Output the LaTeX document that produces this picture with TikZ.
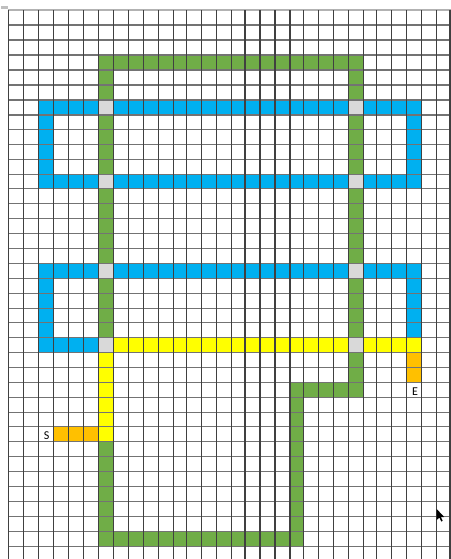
\documentclass[tikz,border=0pt]{standalone}
\usepackage{fontspec}
\setmainfont{Carlito}
\definecolor{cgreen}{HTML}{70AD47}
\definecolor{cblue}{HTML}{00B0F0}
\definecolor{cyellow}{HTML}{FFFF00}
\definecolor{corange}{HTML}{FFC000}
\definecolor{cgray}{HTML}{D9D9D9}
\def\XS{{8.3,23.3,38.3,53.3,68.3,83.3,98.3,113.3,128.3,143.3,158.3,173.3,186.7,201.7,216.7,231.7,245,260,275,290,303.3,318.3,333.3,348.3,363.3,376.7,391.7,406.7,421.7,436.7,450}}
\def\YS{{10,25,40,55,70,85,100,115,129.5,144.5,159.5,174.3,188.3,203.3,218.3,233.3,248.3,263.3,278.3,293.3,308.3,322.7,337.5,352.5,367.3,382.5,397.3,412.3,426.7,441.7,456.7,471.7,486.7,501.7,516.7,531.7,546.3}}
\newcommand\gridcell[5]{%
  \pgfmathsetmacro\xa{\XS[#2]}\pgfmathsetmacro\ya{\YS[#3]}%
  \pgfmathtruncatemacro\cb{#4+1}\pgfmathtruncatemacro\rb{#5+1}%
  \pgfmathsetmacro\xb{\XS[\cb]}\pgfmathsetmacro\yb{\YS[\rb]}%
  \fill[#1] (\xa,\ya) rectangle (\xb,\yb);}
\tikzset{
  greencell/.style={cgreen},
  bluecell/.style={cblue},
  yellowcell/.style={cyellow},
  orangecell/.style={corange},
  graycell/.style={cgray},
  vline/.style={black!75, line width=0.6pt},
  hline/.style={black!55, line width=0.6pt},
  celltext/.style={font=\fontsize{6}{7}\selectfont, inner sep=0pt},
}
\begin{document}
\begin{tikzpicture}[x=0.5pt, y=-0.5pt]
\useasboundingbox (0,0) rectangle (451,559);
\fill[white] (0,0) rectangle (451,559);
% green path
\gridcell{greencell}{6}{3}{23}{3}
\gridcell{greencell}{6}{3}{6}{35}
\gridcell{greencell}{23}{3}{23}{25}
\gridcell{greencell}{19}{25}{23}{25}
\gridcell{greencell}{19}{25}{19}{35}
\gridcell{greencell}{6}{35}{19}{35}
% blue loops
\gridcell{bluecell}{2}{6}{27}{6}
\gridcell{bluecell}{2}{11}{27}{11}
\gridcell{bluecell}{2}{6}{2}{11}
\gridcell{bluecell}{27}{6}{27}{11}
\gridcell{bluecell}{2}{17}{27}{17}
\gridcell{bluecell}{2}{17}{2}{22}
\gridcell{bluecell}{2}{22}{5}{22}
\gridcell{bluecell}{27}{17}{27}{21}
% yellow route
\gridcell{yellowcell}{7}{22}{27}{22}
\gridcell{yellowcell}{6}{23}{6}{28}
% orange ends
\gridcell{orangecell}{3}{28}{5}{28}
\gridcell{orangecell}{27}{23}{27}{24}
% gray crossings
\foreach \c/\r in {6/6,23/6,6/11,23/11,6/17,23/17,6/22,23/22}{\gridcell{graycell}{\c}{\r}{\c}{\r}}
% grid
\foreach \i in {0,...,36}{
  \pgfmathsetmacro\yy{\YS[\i]}
  \draw[hline] (8.3,\yy) -- (451,\yy);
}
\draw[black!30, line width=1pt] (8.3,10) -- (451,10);
\foreach \i in {0,...,30}{
  \pgfmathsetmacro\xx{\XS[\i]}
  \draw[vline] (\xx,10) -- (\xx,559);
}
\fill[black!25] (1,6) rectangle (8,8.5);
% labels
\node[celltext] (s) at (46.7,435.3) {S};
\node[celltext] (e) at (415,391.8) {E};
% cursor
\fill[black] (436.7,509) -- ++(0,11) -- ++(2.6,-2.4) -- ++(2,3.9) -- ++(1.4,-0.7) -- ++(-1.9,-3.8) -- ++(3.4,0) -- cycle;
\end{tikzpicture}
\end{document}
